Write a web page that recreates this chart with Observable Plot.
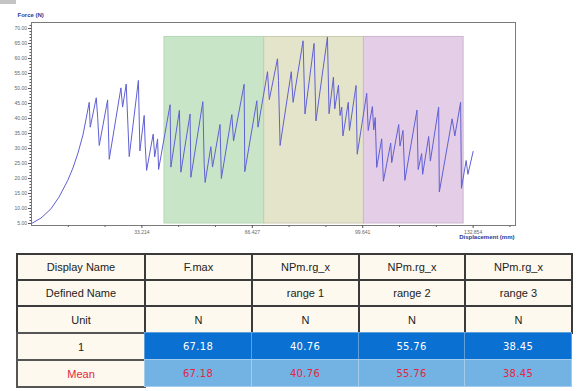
<!DOCTYPE html>
<html>
<head>
<meta charset="utf-8">
<script src="https://cdn.jsdelivr.net/npm/d3@7"></script>
<script src="https://cdn.jsdelivr.net/npm/@observablehq/plot@0.6"></script>
<style>
  html, body { margin: 0; padding: 0; background: #fff; }
  #wrap { position: relative; width: 581px; height: 391px; overflow: hidden; font-family: "Liberation Sans", Arial, sans-serif; }
  #corner { position: absolute; left: 0; top: 0; width: 16px; height: 4px; background: #c4c4c4; }
  #chart { position: absolute; left: 0; top: 0; }
  .cell { position: absolute; box-sizing: border-box; display: flex; align-items: center; justify-content: center; font-size: 11px; color: #222; }
</style>
</head>
<body>
<div id="wrap">
  <div id="chart"></div>
  <div id="corner"></div>
  <div id="table"></div>
</div>
<script>
// ---- curve data (Displacement mm, Force N) ----
const displacement = [0, 2.86, 5.86, 8.27, 10.88, 12.47, 13.98, 15.48, 16.53, 17.37,
  17.67, 19.48, 19.90, 20.38, 22.90, 23.38, 26.90, 27.41, 28.49, 29.40,
  32.16, 32.61, 33.90, 34.21, 34.63, 36.61, 37.06, 37.93, 38.23, 41.69,
  41.93, 44.49, 44.94, 47.70, 47.94, 51.55, 51.94, 52.24, 53.95, 54.46,
  56.72, 57.11, 60.27, 60.78, 63.96, 64.17, 67.78, 68.14, 71.00, 71.54,
  74.00, 74.30, 74.78, 78.15, 78.69, 81.70, 82.27, 85.00, 85.57, 89.03,
  89.51, 90.83, 91.22, 92.34, 92.82, 93.33, 93.69, 95.29, 95.65, 97.63,
  97.99, 100.84, 101.29, 102.55, 102.95, 103.40, 103.85, 105.35, 105.86, 108.06,
  108.36, 110.46, 110.85, 111.75, 112.32, 115.96, 116.32, 117.37, 117.67, 119.48,
  119.99, 122.48, 122.69, 126.54, 127.35, 129.09, 129.34, 130.75, 131.29, 132.85];
const force = [5.0, 6.8, 9.9, 13.8, 19.3, 23.5, 28.5, 34.5, 40.5, 45.4,
  37.1, 46.9, 40.4, 31.0, 46.2, 26.4, 50.2, 43.8, 51.5, 27.3,
  52.7, 29.2, 41.0, 31.0, 22.7, 34.8, 27.2, 33.2, 23.0, 44.6,
  23.8, 42.7, 22.1, 41.5, 20.4, 45.6, 24.9, 18.7, 30.6, 23.8,
  38.0, 20.0, 41.3, 32.5, 51.4, 22.3, 45.9, 37.1, 55.6, 46.3,
  59.9, 52.7, 31.0, 55.6, 45.4, 65.9, 41.5, 65.0, 39.2, 67.18,
  41.6, 53.8, 43.2, 51.1, 41.0, 43.8, 34.2, 45.4, 36.0, 51.0,
  28.1, 48.4, 36.0, 44.0, 36.2, 40.3, 23.7, 33.2, 19.1, 31.8,
  25.3, 38.0, 30.8, 36.0, 19.4, 42.8, 23.0, 28.3, 21.4, 34.0,
  25.8, 43.8, 15.5, 39.9, 34.2, 45.4, 16.7, 26.0, 21.4, 29.0];

// ---- evaluation ranges ----
const rangeNames = ["range 1", "range 2", "range 3"];
const rangeStart = [40, 70, 100];
const rangeEnd = [70, 100, 130];
const rangeFill = ["#c9e5c8", "#e4e4cb", "#e4cde6"];
const rangeStroke = ["#b4d8b3", "#c9cbb0", "#cdb6d2"];
const fMax = 67.18;

// ---- axis ticks ----
const xTicks = [33.214, 66.427, 99.641, 132.854];
const xTickLabels = ["33.214", "66.427", "99.641", "132.854"];
const xMinor = [11.071, 22.143, 44.285, 55.356, 77.498, 88.570, 110.712, 121.783, 143.925];
const yTicks = [5, 10, 15, 20, 25, 30, 35, 40, 45, 50, 55, 60, 65, 70];
const yMinor = d3.range(5, 72, 1);

// ---- results table ----
const rowHeaders = ["Display Name", "Defined Name", "Unit", "1", "Mean"];
const colDisplay = ["F.max", "NPm.rg_x", "NPm.rg_x", "NPm.rg_x"];
const colDefined = ["", "range 1", "range 2", "range 3"];
const colUnit = ["N", "N", "N", "N"];
const row1 = ["67.18", "40.76", "55.76", "38.45"];
const rowMean = ["67.18", "40.76", "55.76", "38.45"];

const points = force.map((f, i) => ({d: displacement[i], f}));
const ranges = rangeStart.map((s, i) => ({s, e: rangeEnd[i], fill: rangeFill[i], stroke: rangeStroke[i]}));

const chart = Plot.plot({
  width: 581, height: 245,
  marginLeft: 31, marginRight: 66, marginTop: 22, marginBottom: 20,
  style: {background: "#fff", fontFamily: "Liberation Sans, Arial, sans-serif"},
  x: {domain: [0, 145.6]},
  y: {domain: [4.333, 72]},
  marks: [
    Plot.rect(ranges, {x1: "s", x2: "e", y1: 5, y2: fMax, fill: "fill", stroke: "stroke", strokeWidth: 1}),
    Plot.line(points, {x: "d", y: "f", stroke: "#6060d4", strokeWidth: 1, curve: "linear"}),
    Plot.frame({stroke: "#7a7a7a", strokeWidth: 1}),
    Plot.axisY(yMinor, {tickSize: 1.5, tickFormat: () => "", label: null, stroke: "#555"}),
    Plot.axisY(yTicks, {tickSize: 3, tickPadding: 1.5, tickFormat: d => d.toFixed(2), label: null, fontSize: 5, fill: "#666", stroke: "#555"}),
    Plot.axisX(xMinor, {tickSize: 2, tickFormat: () => "", label: null, stroke: "#666"}),
    Plot.axisX(xTicks, {tickSize: 3, tickPadding: 1.5, tickFormat: (d, i) => xTickLabels[i], label: null, fontSize: 5, fill: "#666", stroke: "#555"}),
    Plot.text(["Force (N)"], {frameAnchor: "top-left", dx: -14, dy: -10, textAnchor: "start", fontSize: 6, fontWeight: "bold", fill: "#2b3a96"}),
    Plot.text(["Displacement (mm)"], {frameAnchor: "bottom-right", dx: -1, dy: 13, textAnchor: "end", fontSize: 6, fontWeight: "bold", fill: "#2b3a96"})
  ]
});
document.getElementById("chart").appendChild(chart);

// ---- table layout ----
const colEdges = [16, 144, 251, 358, 464, 571];
const rowEdges = [253, 279, 305, 332, 359, 386];
const tbl = document.getElementById("table");
const rows = [
  [rowHeaders[0], ...colDisplay],
  [rowHeaders[1], ...colDefined],
  [rowHeaders[2], ...colUnit],
  [rowHeaders[3], ...row1],
  [rowHeaders[4], ...rowMean]
];
rows.forEach((r, ri) => {
  r.forEach((txt, ci) => {
    const c = document.createElement("div");
    c.className = "cell";
    c.style.left = colEdges[ci] + "px";
    c.style.top = rowEdges[ri] + "px";
    c.style.width = (colEdges[ci + 1] - colEdges[ci] + 2) + "px";
    c.style.height = (rowEdges[ri + 1] - rowEdges[ri] + 2) + "px";
    let bg = "#fdf9ee", color = "#222", border = "2px solid #3b3b3b";
    if (ri === 3 && ci > 0) { bg = "#0a70d2"; color = "#fff"; border = "1px solid #5f9fdc"; }
    if (ri === 4 && ci > 0) { bg = "#73b3e3"; color = "#e3263f"; border = "1px solid #a3cbed"; }
    if (ri === 4 && ci === 0) { color = "#e3263f"; }
    if (ri >= 3 && ci === 0) { border = "2px solid #555"; }
    c.style.background = bg;
    c.style.color = color;
    c.style.border = border;
    if (ri >= 3 && ci > 0) {
      c.style.width = (colEdges[ci + 1] - colEdges[ci] + 1) + "px";
      c.style.height = (rowEdges[ri + 1] - rowEdges[ri] + 1) + "px";
      c.style.fontFamily = "DejaVu Sans, sans-serif";
      c.style.fontSize = "10px";
      c.style.letterSpacing = "0.3px";
    }
    c.textContent = txt;
    tbl.appendChild(c);
  });
});
</script>
</body>
</html>
